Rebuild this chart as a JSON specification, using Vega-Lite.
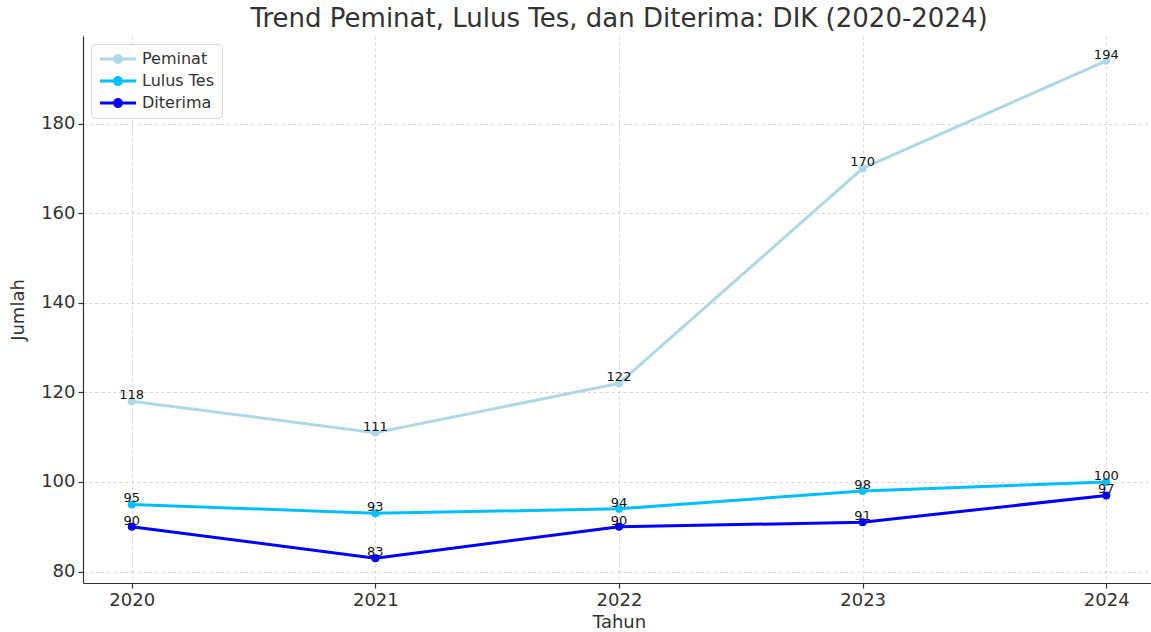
{
  "$schema": "https://vega.github.io/schema/vega-lite/v6.json",
  "width": 1072,
  "height": 547,
  "autosize": {"type": "none"},
  "padding": {"left": 83, "top": 36, "right": 0, "bottom": 49},
  "background": "white",
  "title": {
    "text": "Trend Peminat, Lulus Tes, dan Diterima: DIK (2020-2024)",
    "font": "DejaVu Sans",
    "fontSize": 26,
    "fontWeight": "normal",
    "color": "#333333",
    "anchor": "middle",
    "baseline": "top",
    "offset": 4
  },
  "config": {
    "view": {"stroke": null},
    "font": "DejaVu Sans",
    "axis": {
      "labelFont": "DejaVu Sans",
      "titleFont": "DejaVu Sans",
      "labelFontSize": 18,
      "titleFontSize": 18,
      "titleFontWeight": "normal",
      "labelColor": "#333333",
      "titleColor": "#333333",
      "domainColor": "#333333",
      "domainWidth": 1.2,
      "tickColor": "#333333",
      "tickSize": 5,
      "tickWidth": 1.2,
      "grid": true,
      "gridColor": "#cccccc",
      "gridDash": [3, 3],
      "gridWidth": 0.8
    }
  },
  "data": {
    "values": [
      {"tahun": 2020, "kategori": "Peminat", "jumlah": 118},
      {"tahun": 2021, "kategori": "Peminat", "jumlah": 111},
      {"tahun": 2022, "kategori": "Peminat", "jumlah": 122},
      {"tahun": 2023, "kategori": "Peminat", "jumlah": 170},
      {"tahun": 2024, "kategori": "Peminat", "jumlah": 194},
      {"tahun": 2020, "kategori": "Lulus Tes", "jumlah": 95},
      {"tahun": 2021, "kategori": "Lulus Tes", "jumlah": 93},
      {"tahun": 2022, "kategori": "Lulus Tes", "jumlah": 94},
      {"tahun": 2023, "kategori": "Lulus Tes", "jumlah": 98},
      {"tahun": 2024, "kategori": "Lulus Tes", "jumlah": 100},
      {"tahun": 2020, "kategori": "Diterima", "jumlah": 90},
      {"tahun": 2021, "kategori": "Diterima", "jumlah": 83},
      {"tahun": 2022, "kategori": "Diterima", "jumlah": 90},
      {"tahun": 2023, "kategori": "Diterima", "jumlah": 91},
      {"tahun": 2024, "kategori": "Diterima", "jumlah": 97}
    ]
  },
  "encoding": {
    "x": {
      "field": "tahun",
      "type": "quantitative",
      "scale": {"domain": [2019.8, 2024.2], "nice": false, "zero": false},
      "axis": {"values": [2020, 2021, 2022, 2023, 2024], "format": "d", "title": "Tahun", "labelPadding": 3, "titlePadding": 4, "labelFlush": false}
    },
    "y": {
      "field": "jumlah",
      "type": "quantitative",
      "scale": {"domain": [77.45, 199.55], "nice": false, "zero": false},
      "axis": {"values": [80, 100, 120, 140, 160, 180], "title": "Jumlah", "labelPadding": 3, "titlePadding": 13, "labelFlush": false}
    },
    "color": {
      "field": "kategori",
      "type": "nominal",
      "scale": {"domain": ["Peminat", "Lulus Tes", "Diterima"], "range": ["#add8e6", "#00bfff", "#0000ff"]},
      "legend": {
        "title": null,
        "orient": "none",
        "legendX": 8,
        "legendY": 8,
        "padding": 7,
        "fillColor": "rgba(255,255,255,0.85)",
        "strokeColor": "#d6d6d6",
        "cornerRadius": 4,
        "labelFont": "DejaVu Sans",
        "labelFontSize": 16,
        "labelColor": "#333333",
        "symbolType": "M-1,-0.25H1.17V0.25H-1Z M2.83,-0.25H5V0.25H2.83Z M2.83,0A0.83,0.83,0,1,1,1.17,0A0.83,0.83,0,1,1,2.83,0Z",
        "symbolSize": 144,
        "symbolStrokeWidth": 0,
        "labelOffset": 28,
        "rowPadding": 6,
        "encode": {
          "symbols": {"update": {"fill": {"scale": "color", "field": "value"}, "fillOpacity": {"value": 1}, "strokeWidth": {"value": 0}}}
        }
      }
    }
  },
  "layer": [
    {"mark": {"type": "line", "strokeWidth": 3}},
    {"mark": {"type": "point", "filled": true, "opacity": 1, "size": 64}},
    {
      "mark": {"type": "text", "font": "DejaVu Sans", "fontSize": 13, "color": "#111111", "baseline": "alphabetic", "dy": -2, "align": "center"},
      "encoding": {"text": {"field": "jumlah", "type": "quantitative"}, "color": {"value": "#111111"}}
    }
  ]
}
